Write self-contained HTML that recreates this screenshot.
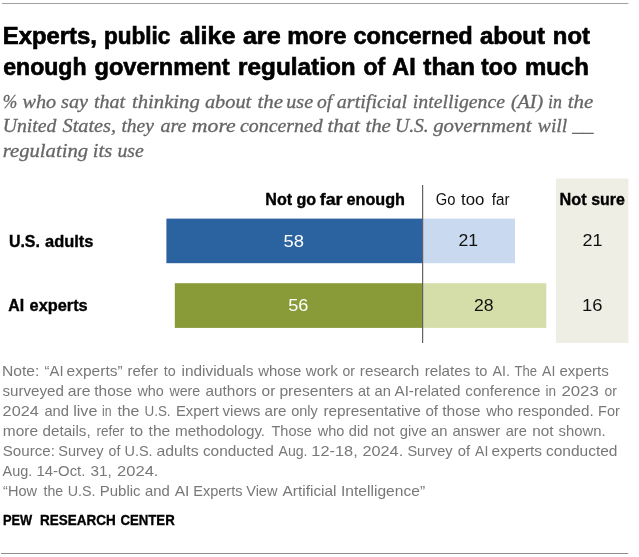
<!DOCTYPE html>
<html><head><meta charset="utf-8"><title>Experts, public alike are more concerned about not enough government regulation of AI than too much</title>
<style>
html,body{margin:0;padding:0;background:#fff;}
body{width:639px;height:557px;overflow:hidden;}
svg{display:block;}
text{white-space:pre;}
.title{font-family:"Liberation Sans", sans-serif;font-weight:bold;font-style:normal;font-size:23px;fill:#000;}
.sub{font-family:"Liberation Serif", serif;font-weight:normal;font-style:italic;font-size:19px;fill:#666;}
.subp{font-family:"Liberation Serif", serif;font-weight:normal;font-style:italic;font-size:18.2px;fill:#666;}
.hdrb{font-family:"Liberation Sans", sans-serif;font-weight:bold;font-style:normal;font-size:16px;fill:#000;}
.hdr{font-family:"Liberation Sans", sans-serif;font-weight:normal;font-style:normal;font-size:16px;fill:#111;}
.lbl{font-family:"Liberation Sans", sans-serif;font-weight:bold;font-style:normal;font-size:16px;fill:#000;}
.valw{font-family:"Liberation Sans", sans-serif;font-weight:normal;font-style:normal;font-size:16px;fill:#fff;}
.val{font-family:"Liberation Sans", sans-serif;font-weight:normal;font-style:normal;font-size:16px;fill:#111;}
.note{font-family:"Liberation Sans", sans-serif;font-weight:normal;font-style:normal;font-size:14.5px;fill:#787878;}
.pew{font-family:"Liberation Sans", sans-serif;font-weight:bold;font-style:normal;font-size:15px;fill:#000;}
.title{stroke:#000;stroke-width:0.65px;}
.sub,.subp{stroke:#666;stroke-width:0.3px;}
.hdrb,.lbl,.pew{stroke:#000;stroke-width:0.35px;}
</style></head><body>
<svg width="639" height="557" viewBox="0 0 639 557">
<rect x="0" y="0" width="639" height="557" fill="#fff"/>
<rect x="2" y="3" width="626.4" height="1" fill="#a0a0a0"/>
<rect x="1" y="553" width="627.3" height="1" fill="#8e8e8e"/>
<rect x="556" y="178.5" width="72.4" height="164.5" fill="#efeee4"/>
<rect x="166.4" y="218.6" width="256" height="44.6" fill="#2a639f"/>
<rect x="422.5" y="218.6" width="92.5" height="44.6" fill="#c9daf0"/>
<rect x="174.8" y="283.2" width="248" height="44.7" fill="#899b39"/>
<rect x="422.5" y="283.2" width="123.8" height="44.7" fill="#d5dea8"/>
<rect x="422.1" y="185" width="1.1" height="158" fill="#555"/>

<text class="title" y="43.7"><tspan x="2.76" textLength="94.08" lengthAdjust="spacingAndGlyphs">Experts,</tspan> <tspan x="104.02" textLength="66.38" lengthAdjust="spacingAndGlyphs">public</tspan> <tspan x="179.70" textLength="55.76" lengthAdjust="spacingAndGlyphs">alike</tspan> <tspan x="242.90" textLength="37.77" lengthAdjust="spacingAndGlyphs">are</tspan> <tspan x="287.35" textLength="59.19" lengthAdjust="spacingAndGlyphs">more</tspan> <tspan x="353.50" textLength="119.18" lengthAdjust="spacingAndGlyphs">concerned</tspan> <tspan x="479.90" textLength="65.05" lengthAdjust="spacingAndGlyphs">about</tspan> <tspan x="552.87" textLength="36.98" lengthAdjust="spacingAndGlyphs">not</tspan></text>
<text class="title" y="74.7"><tspan x="3.20" textLength="83.35" lengthAdjust="spacingAndGlyphs">enough</tspan> <tspan x="94.50" textLength="135.15" lengthAdjust="spacingAndGlyphs">government</tspan> <tspan x="238.14" textLength="117.47" lengthAdjust="spacingAndGlyphs">regulation</tspan> <tspan x="363.40" textLength="21.76" lengthAdjust="spacingAndGlyphs">of</tspan> <tspan x="392.30" textLength="23.31" lengthAdjust="spacingAndGlyphs">AI</tspan> <tspan x="423.30" textLength="51.62" lengthAdjust="spacingAndGlyphs">than</tspan> <tspan x="481.10" textLength="35.95" lengthAdjust="spacingAndGlyphs">too</tspan> <tspan x="524.96" textLength="63.83" lengthAdjust="spacingAndGlyphs">much</tspan></text>
<text class="subp" y="108.1"><tspan x="2.84" textLength="14.50" lengthAdjust="spacingAndGlyphs">%</tspan></text>
<text class="sub" y="107.7"><tspan x="22.50" textLength="33.73" lengthAdjust="spacingAndGlyphs">who</tspan> <tspan x="61.00" textLength="27.00" lengthAdjust="spacingAndGlyphs">say</tspan> <tspan x="93.90" textLength="31.14" lengthAdjust="spacingAndGlyphs">that</tspan> <tspan x="132.00" textLength="67.74" lengthAdjust="spacingAndGlyphs">thinking</tspan> <tspan x="204.90" textLength="46.33" lengthAdjust="spacingAndGlyphs">about</tspan> <tspan x="257.50" textLength="25.58" lengthAdjust="spacingAndGlyphs">the</tspan> <tspan x="286.30" textLength="26.76" lengthAdjust="spacingAndGlyphs">use</tspan> <tspan x="317.00" textLength="15.20" lengthAdjust="spacingAndGlyphs">of</tspan> <tspan x="336.80" textLength="70.29" lengthAdjust="spacingAndGlyphs">artificial</tspan> <tspan x="412.86" textLength="92.19" lengthAdjust="spacingAndGlyphs">intelligence</tspan> <tspan x="510.90" textLength="32.14" lengthAdjust="spacingAndGlyphs">(AI)</tspan> <tspan x="548.06" textLength="13.91" lengthAdjust="spacingAndGlyphs">in</tspan> <tspan x="567.70" textLength="25.58" lengthAdjust="spacingAndGlyphs">the</tspan></text>
<text class="sub" y="132.3"><tspan x="2.76" textLength="53.72" lengthAdjust="spacingAndGlyphs">United</tspan> <tspan x="62.60" textLength="53.40" lengthAdjust="spacingAndGlyphs">States,</tspan> <tspan x="121.40" textLength="32.52" lengthAdjust="spacingAndGlyphs">they</tspan> <tspan x="160.50" textLength="25.96" lengthAdjust="spacingAndGlyphs">are</tspan> <tspan x="191.80" textLength="44.00" lengthAdjust="spacingAndGlyphs">more</tspan> <tspan x="240.00" textLength="82.68" lengthAdjust="spacingAndGlyphs">concerned</tspan> <tspan x="327.40" textLength="32.41" lengthAdjust="spacingAndGlyphs">that</tspan> <tspan x="365.40" textLength="25.48" lengthAdjust="spacingAndGlyphs">the</tspan> <tspan x="394.97" textLength="33.81" lengthAdjust="spacingAndGlyphs">U.S.</tspan> <tspan x="433.20" textLength="98.31" lengthAdjust="spacingAndGlyphs">government</tspan> <tspan x="537.80" textLength="29.49" lengthAdjust="spacingAndGlyphs">will</tspan> <tspan x="572.31" textLength="21.04" lengthAdjust="spacingAndGlyphs">__</tspan></text>
<text class="sub" y="156.8"><tspan x="2.70" textLength="85.44" lengthAdjust="spacingAndGlyphs">regulating</tspan> <tspan x="92.82" textLength="19.30" lengthAdjust="spacingAndGlyphs">its</tspan> <tspan x="117.40" textLength="26.35" lengthAdjust="spacingAndGlyphs">use</tspan></text>
<text class="hdrb" y="205.0"><tspan x="265.29" textLength="26.83" lengthAdjust="spacingAndGlyphs">Not</tspan> <tspan x="296.50" textLength="19.67" lengthAdjust="spacingAndGlyphs">go</tspan> <tspan x="319.80" textLength="22.75" lengthAdjust="spacingAndGlyphs">far</tspan> <tspan x="346.50" textLength="58.48" lengthAdjust="spacingAndGlyphs">enough</tspan></text>
<text class="hdr" y="205.0"><tspan x="435.80" textLength="19.61" lengthAdjust="spacingAndGlyphs">Go</tspan> <tspan x="461.00" textLength="23.39" lengthAdjust="spacingAndGlyphs">too</tspan> <tspan x="491.80" textLength="17.76" lengthAdjust="spacingAndGlyphs">far</tspan></text>
<text class="hdrb" y="205.0"><tspan x="559.59" textLength="27.03" lengthAdjust="spacingAndGlyphs">Not</tspan> <tspan x="591.20" textLength="33.60" lengthAdjust="spacingAndGlyphs">sure</tspan></text>
<text class="lbl" y="246.6"><tspan x="8.90" textLength="31.04" lengthAdjust="spacingAndGlyphs">U.S.</tspan> <tspan x="45.00" textLength="48.40" lengthAdjust="spacingAndGlyphs">adults</tspan></text>
<text class="lbl" y="311.2"><tspan x="8.30" textLength="15.84" lengthAdjust="spacingAndGlyphs">AI</tspan> <tspan x="29.60" textLength="58.10" lengthAdjust="spacingAndGlyphs">experts</tspan></text>
<text class="valw" y="246.7"><tspan x="283.50" textLength="20.48" lengthAdjust="spacingAndGlyphs">58</tspan></text>
<text class="val" y="246.4"><tspan x="458.40" textLength="19.59" lengthAdjust="spacingAndGlyphs">21</tspan></text>
<text class="val" y="246.4"><tspan x="582.50" textLength="19.99" lengthAdjust="spacingAndGlyphs">21</tspan></text>
<text class="valw" y="310.8"><tspan x="288.20" textLength="20.18" lengthAdjust="spacingAndGlyphs">56</tspan></text>
<text class="val" y="310.8"><tspan x="474.00" textLength="19.59" lengthAdjust="spacingAndGlyphs">28</tspan></text>
<text class="val" y="310.8"><tspan x="582.05" textLength="20.43" lengthAdjust="spacingAndGlyphs">16</tspan></text>
<text class="note" y="375.5"><tspan x="1.92" textLength="37.49" lengthAdjust="spacingAndGlyphs">Note:</tspan> <tspan x="44.60" textLength="18.95" lengthAdjust="spacingAndGlyphs">“AI</tspan> <tspan x="66.60" textLength="56.02" lengthAdjust="spacingAndGlyphs">experts”</tspan> <tspan x="127.50" textLength="30.82" lengthAdjust="spacingAndGlyphs">refer</tspan> <tspan x="163.70" textLength="11.96" lengthAdjust="spacingAndGlyphs">to</tspan> <tspan x="181.50" textLength="71.97" lengthAdjust="spacingAndGlyphs">individuals</tspan> <tspan x="258.23" textLength="43.14" lengthAdjust="spacingAndGlyphs">whose</tspan> <tspan x="305.84" textLength="31.97" lengthAdjust="spacingAndGlyphs">work</tspan> <tspan x="342.60" textLength="12.43" lengthAdjust="spacingAndGlyphs">or</tspan> <tspan x="359.80" textLength="59.47" lengthAdjust="spacingAndGlyphs">research</tspan> <tspan x="424.70" textLength="45.56" lengthAdjust="spacingAndGlyphs">relates</tspan> <tspan x="475.20" textLength="12.16" lengthAdjust="spacingAndGlyphs">to</tspan> <tspan x="492.50" textLength="17.41" lengthAdjust="spacingAndGlyphs">AI.</tspan> <tspan x="514.60" textLength="22.56" lengthAdjust="spacingAndGlyphs">The</tspan> <tspan x="542.10" textLength="13.30" lengthAdjust="spacingAndGlyphs">AI</tspan> <tspan x="559.40" textLength="49.46" lengthAdjust="spacingAndGlyphs">experts</tspan></text>
<text class="note" y="395.5"><tspan x="2.50" textLength="61.37" lengthAdjust="spacingAndGlyphs">surveyed</tspan> <tspan x="67.70" textLength="22.77" lengthAdjust="spacingAndGlyphs">are</tspan> <tspan x="94.30" textLength="37.77" lengthAdjust="spacingAndGlyphs">those</tspan> <tspan x="137.40" textLength="26.47" lengthAdjust="spacingAndGlyphs">who</tspan> <tspan x="169.48" textLength="30.78" lengthAdjust="spacingAndGlyphs">were</tspan> <tspan x="205.60" textLength="51.06" lengthAdjust="spacingAndGlyphs">authors</tspan> <tspan x="261.50" textLength="13.82" lengthAdjust="spacingAndGlyphs">or</tspan> <tspan x="279.40" textLength="73.87" lengthAdjust="spacingAndGlyphs">presenters</tspan> <tspan x="358.00" textLength="12.03" lengthAdjust="spacingAndGlyphs">at</tspan> <tspan x="374.50" textLength="16.37" lengthAdjust="spacingAndGlyphs">an</tspan> <tspan x="394.50" textLength="65.87" lengthAdjust="spacingAndGlyphs">AI-related</tspan> <tspan x="465.30" textLength="75.07" lengthAdjust="spacingAndGlyphs">conference</tspan> <tspan x="545.60" textLength="10.56" lengthAdjust="spacingAndGlyphs">in</tspan> <tspan x="561.40" textLength="37.47" lengthAdjust="spacingAndGlyphs">2023</tspan> <tspan x="604.50" textLength="12.34" lengthAdjust="spacingAndGlyphs">or</tspan></text>
<text class="note" y="415.6"><tspan x="2.60" textLength="36.17" lengthAdjust="spacingAndGlyphs">2024</tspan> <tspan x="44.40" textLength="24.46" lengthAdjust="spacingAndGlyphs">and</tspan> <tspan x="73.20" textLength="24.17" lengthAdjust="spacingAndGlyphs">live</tspan> <tspan x="102.00" textLength="9.55" lengthAdjust="spacingAndGlyphs">in</tspan> <tspan x="117.40" textLength="22.07" lengthAdjust="spacingAndGlyphs">the</tspan> <tspan x="144.48" textLength="26.08" lengthAdjust="spacingAndGlyphs">U.S.</tspan> <tspan x="175.98" textLength="42.85" lengthAdjust="spacingAndGlyphs">Expert</tspan> <tspan x="222.50" textLength="37.96" lengthAdjust="spacingAndGlyphs">views</tspan> <tspan x="264.60" textLength="21.97" lengthAdjust="spacingAndGlyphs">are</tspan> <tspan x="291.20" textLength="26.55" lengthAdjust="spacingAndGlyphs">only</tspan> <tspan x="323.40" textLength="97.37" lengthAdjust="spacingAndGlyphs">representative</tspan> <tspan x="425.40" textLength="12.59" lengthAdjust="spacingAndGlyphs">of</tspan> <tspan x="442.20" textLength="38.27" lengthAdjust="spacingAndGlyphs">those</tspan> <tspan x="486.21" textLength="26.95" lengthAdjust="spacingAndGlyphs">who</tspan> <tspan x="517.80" textLength="75.88" lengthAdjust="spacingAndGlyphs">responded.</tspan> <tspan x="598.00" textLength="21.83" lengthAdjust="spacingAndGlyphs">For</tspan></text>
<text class="note" y="435.8"><tspan x="2.80" textLength="35.27" lengthAdjust="spacingAndGlyphs">more</tspan> <tspan x="42.50" textLength="48.18" lengthAdjust="spacingAndGlyphs">details,</tspan> <tspan x="96.50" textLength="27.84" lengthAdjust="spacingAndGlyphs">refer</tspan> <tspan x="129.80" textLength="13.27" lengthAdjust="spacingAndGlyphs">to</tspan> <tspan x="148.60" textLength="21.67" lengthAdjust="spacingAndGlyphs">the</tspan> <tspan x="175.00" textLength="90.08" lengthAdjust="spacingAndGlyphs">methodology.</tspan> <tspan x="271.50" textLength="40.36" lengthAdjust="spacingAndGlyphs">Those</tspan> <tspan x="317.80" textLength="26.66" lengthAdjust="spacingAndGlyphs">who</tspan> <tspan x="348.80" textLength="19.46" lengthAdjust="spacingAndGlyphs">did</tspan> <tspan x="373.20" textLength="21.43" lengthAdjust="spacingAndGlyphs">not</tspan> <tspan x="399.80" textLength="27.07" lengthAdjust="spacingAndGlyphs">give</tspan> <tspan x="431.10" textLength="16.37" lengthAdjust="spacingAndGlyphs">an</tspan> <tspan x="452.40" textLength="47.92" lengthAdjust="spacingAndGlyphs">answer</tspan> <tspan x="505.70" textLength="21.16" lengthAdjust="spacingAndGlyphs">are</tspan> <tspan x="532.20" textLength="21.33" lengthAdjust="spacingAndGlyphs">not</tspan> <tspan x="558.50" textLength="47.05" lengthAdjust="spacingAndGlyphs">shown.</tspan></text>
<text class="note" y="455.9"><tspan x="2.80" textLength="52.07" lengthAdjust="spacingAndGlyphs">Source:</tspan> <tspan x="58.20" textLength="45.25" lengthAdjust="spacingAndGlyphs">Survey</tspan> <tspan x="108.60" textLength="11.76" lengthAdjust="spacingAndGlyphs">of</tspan> <tspan x="124.50" textLength="28.12" lengthAdjust="spacingAndGlyphs">U.S.</tspan> <tspan x="156.40" textLength="42.17" lengthAdjust="spacingAndGlyphs">adults</tspan> <tspan x="202.90" textLength="70.97" lengthAdjust="spacingAndGlyphs">conducted</tspan> <tspan x="278.50" textLength="29.00" lengthAdjust="spacingAndGlyphs">Aug.</tspan> <tspan x="311.37" textLength="46.39" lengthAdjust="spacingAndGlyphs">12-18,</tspan> <tspan x="362.50" textLength="40.65" lengthAdjust="spacingAndGlyphs">2024.</tspan> <tspan x="407.40" textLength="45.15" lengthAdjust="spacingAndGlyphs">Survey</tspan> <tspan x="457.70" textLength="12.31" lengthAdjust="spacingAndGlyphs">of</tspan> <tspan x="475.00" textLength="13.30" lengthAdjust="spacingAndGlyphs">AI</tspan> <tspan x="491.60" textLength="50.47" lengthAdjust="spacingAndGlyphs">experts</tspan> <tspan x="545.90" textLength="71.57" lengthAdjust="spacingAndGlyphs">conducted</tspan></text>
<text class="note" y="476.1"><tspan x="2.60" textLength="29.73" lengthAdjust="spacingAndGlyphs">Aug.</tspan> <tspan x="36.57" textLength="48.78" lengthAdjust="spacingAndGlyphs">14-Oct.</tspan> <tspan x="90.60" textLength="21.18" lengthAdjust="spacingAndGlyphs">31,</tspan> <tspan x="117.00" textLength="41.48" lengthAdjust="spacingAndGlyphs">2024.</tspan></text>
<text class="note" y="496.3"><tspan x="3.10" textLength="33.87" lengthAdjust="spacingAndGlyphs">“How</tspan> <tspan x="43.50" textLength="19.66" lengthAdjust="spacingAndGlyphs">the</tspan> <tspan x="67.81" textLength="27.80" lengthAdjust="spacingAndGlyphs">U.S.</tspan> <tspan x="99.77" textLength="40.79" lengthAdjust="spacingAndGlyphs">Public</tspan> <tspan x="145.10" textLength="24.77" lengthAdjust="spacingAndGlyphs">and</tspan> <tspan x="174.70" textLength="14.70" lengthAdjust="spacingAndGlyphs">AI</tspan> <tspan x="193.30" textLength="49.15" lengthAdjust="spacingAndGlyphs">Experts</tspan> <tspan x="246.20" textLength="31.27" lengthAdjust="spacingAndGlyphs">View</tspan> <tspan x="282.60" textLength="53.94" lengthAdjust="spacingAndGlyphs">Artificial</tspan> <tspan x="341.02" textLength="84.09" lengthAdjust="spacingAndGlyphs">Intelligence”</tspan></text>
<text class="pew" y="525.1"><tspan x="2.94" textLength="29.23" lengthAdjust="spacingAndGlyphs">PEW</tspan> <tspan x="40.10" textLength="75.65" lengthAdjust="spacingAndGlyphs">RESEARCH</tspan> <tspan x="120.50" textLength="54.15" lengthAdjust="spacingAndGlyphs">CENTER</tspan></text>
</svg>
</body></html>
